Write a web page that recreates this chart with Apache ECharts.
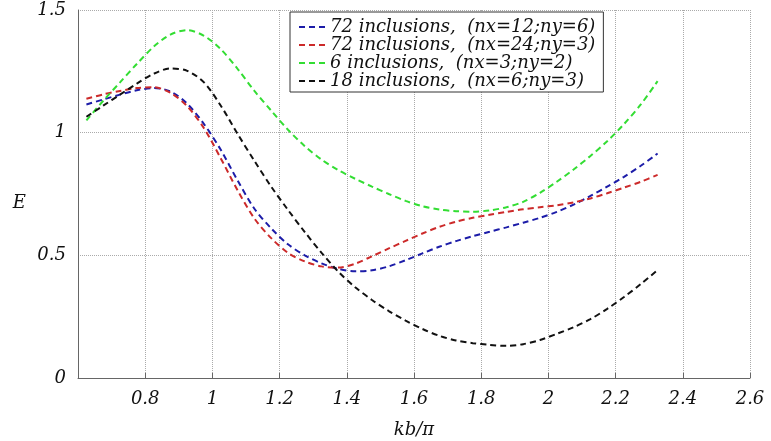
<!DOCTYPE html>
<html>
<head>
<meta charset="utf-8">
<script src="https://cdn.jsdelivr.net/npm/echarts@6/dist/echarts.min.js"></script>
<style>
  html, body { margin: 0; padding: 0; background: #fff; }
  #chart { width: 771px; height: 441px; }
</style>
</head>
<body>
<div id="chart"></div>
<script>
// kb/pi sample points
var kb = [0.625, 0.675, 0.725, 0.775, 0.825, 0.875, 0.925, 0.975, 1.025, 1.075, 1.125, 1.175,
          1.225, 1.275, 1.325, 1.375, 1.425, 1.475, 1.525, 1.575, 1.625, 1.675, 1.725, 1.775,
          1.825, 1.875, 1.925, 1.975, 2.025, 2.075, 2.125, 2.175, 2.225, 2.275, 2.325];

// 72 inclusions (nx=12;ny=6)
var e72a = [1.115, 1.135, 1.155, 1.173, 1.182, 1.168, 1.118, 1.035, 0.93, 0.805, 0.69, 0.61,
            0.545, 0.5, 0.467, 0.445, 0.435, 0.439, 0.455, 0.48, 0.508, 0.535, 0.558, 0.578,
            0.596, 0.614, 0.633, 0.653, 0.677, 0.707, 0.742, 0.78, 0.82, 0.865, 0.915];
// 72 inclusions (nx=24;ny=3)
var e72b = [1.138, 1.156, 1.17, 1.182, 1.185, 1.163, 1.108, 1.018, 0.895, 0.765, 0.65, 0.57,
            0.51, 0.475, 0.455, 0.45, 0.466, 0.496, 0.528, 0.559, 0.589, 0.616, 0.637, 0.653,
            0.665, 0.677, 0.688, 0.696, 0.704, 0.716, 0.732, 0.753, 0.776, 0.8, 0.828];
// 6 inclusions (nx=3;ny=2)
var e6 = [1.05, 1.13, 1.205, 1.28, 1.35, 1.4, 1.418, 1.395, 1.34, 1.26, 1.17, 1.09,
          1.012, 0.945, 0.89, 0.847, 0.812, 0.78, 0.75, 0.722, 0.70, 0.687, 0.68, 0.678,
          0.683, 0.696, 0.718, 0.755, 0.80, 0.85, 0.905, 0.965, 1.035, 1.115, 1.21];
// 18 inclusions (nx=6;ny=3)
var e18 = [1.065, 1.11, 1.155, 1.2, 1.24, 1.262, 1.252, 1.205, 1.11, 0.995, 0.885, 0.78,
           0.685, 0.595, 0.51, 0.433, 0.37, 0.318, 0.273, 0.234, 0.2, 0.172, 0.153, 0.142,
           0.135, 0.131, 0.138, 0.155, 0.18, 0.207, 0.24, 0.282, 0.33, 0.383, 0.44];

var names = [
  '72 inclusions,  (nx=12;ny=6)',
  '72 inclusions,  (nx=24;ny=3)',
  '6 inclusions,  (nx=3;ny=2)',
  '18 inclusions,  (nx=6;ny=3)'
];
var colors = ['#1c1ca8', '#cc2a2a', '#33dd33', '#111111'];
var values = [e72a, e72b, e6, e18];

var font = 'DejaVu Serif';

function pairs(ys) {
  return kb.map(function (x, i) { return [x, ys[i]]; });
}

var series = names.map(function (n, i) {
  return {
    name: n,
    type: 'line',
    data: pairs(values[i]),
    smooth: 0.3,
    showSymbol: false,
    symbol: 'none',
    lineStyle: { color: colors[i], width: 2, type: [6, 4] },
    itemStyle: { color: colors[i] }
  };
});

var chart = echarts.init(document.getElementById('chart'));
chart.setOption({
  animation: false,
  backgroundColor: '#fff',
  grid: { left: 78, right: 21, top: 10, bottom: 63, outerBoundsMode: 'none', containLabel: false },
  legend: {
    orient: 'vertical',
    left: 290,
    top: 12,
    padding: [6, 8, 2, 8],
    itemGap: 0,
    itemWidth: 26,
    itemHeight: 14,
    borderColor: '#333',
    borderWidth: 1,
    backgroundColor: '#fff',
    itemStyle: { opacity: 0 },
    textStyle: { fontFamily: font, fontStyle: 'italic', fontSize: 18, lineHeight: 18, color: '#111' },
    data: names
  },
  xAxis: {
    type: 'value',
    min: 0.6,
    max: 2.6,
    interval: 0.2,
    name: 'kb/π',
    nameLocation: 'middle',
    nameGap: 43,
    nameTextStyle: { fontFamily: font, fontStyle: 'italic', fontSize: 18, color: '#111' },
    axisLine: { lineStyle: { color: '#666' } },
    axisTick: { inside: true, length: 5, lineStyle: { color: '#666' } },
    axisLabel: {
      fontFamily: font, fontStyle: 'italic', fontSize: 18, color: '#111', margin: 12,
      formatter: function (v) { return v < 0.7 ? '' : String(Math.round(v * 10) / 10); }
    },
    splitLine: { show: true, lineStyle: { color: '#aaa', type: 'dotted', width: 1 } }
  },
  yAxis: {
    type: 'value',
    min: 0,
    max: 1.5,
    interval: 0.5,
    name: 'E',
    nameLocation: 'middle',
    nameRotate: 0,
    nameGap: 52,
    nameTextStyle: { fontFamily: font, fontStyle: 'italic', fontSize: 18, color: '#111', verticalAlign: 'top' },
    axisLine: { show: true, lineStyle: { color: '#666' } },
    axisTick: { show: false },
    axisLabel: { fontFamily: font, fontStyle: 'italic', fontSize: 18, color: '#111', margin: 12,
      padding: [4, 0, 0, 0] },
    splitLine: { show: true, lineStyle: { color: '#aaa', type: 'dotted', width: 1 } }
  },
  series: series
});
</script>
</body>
</html>
